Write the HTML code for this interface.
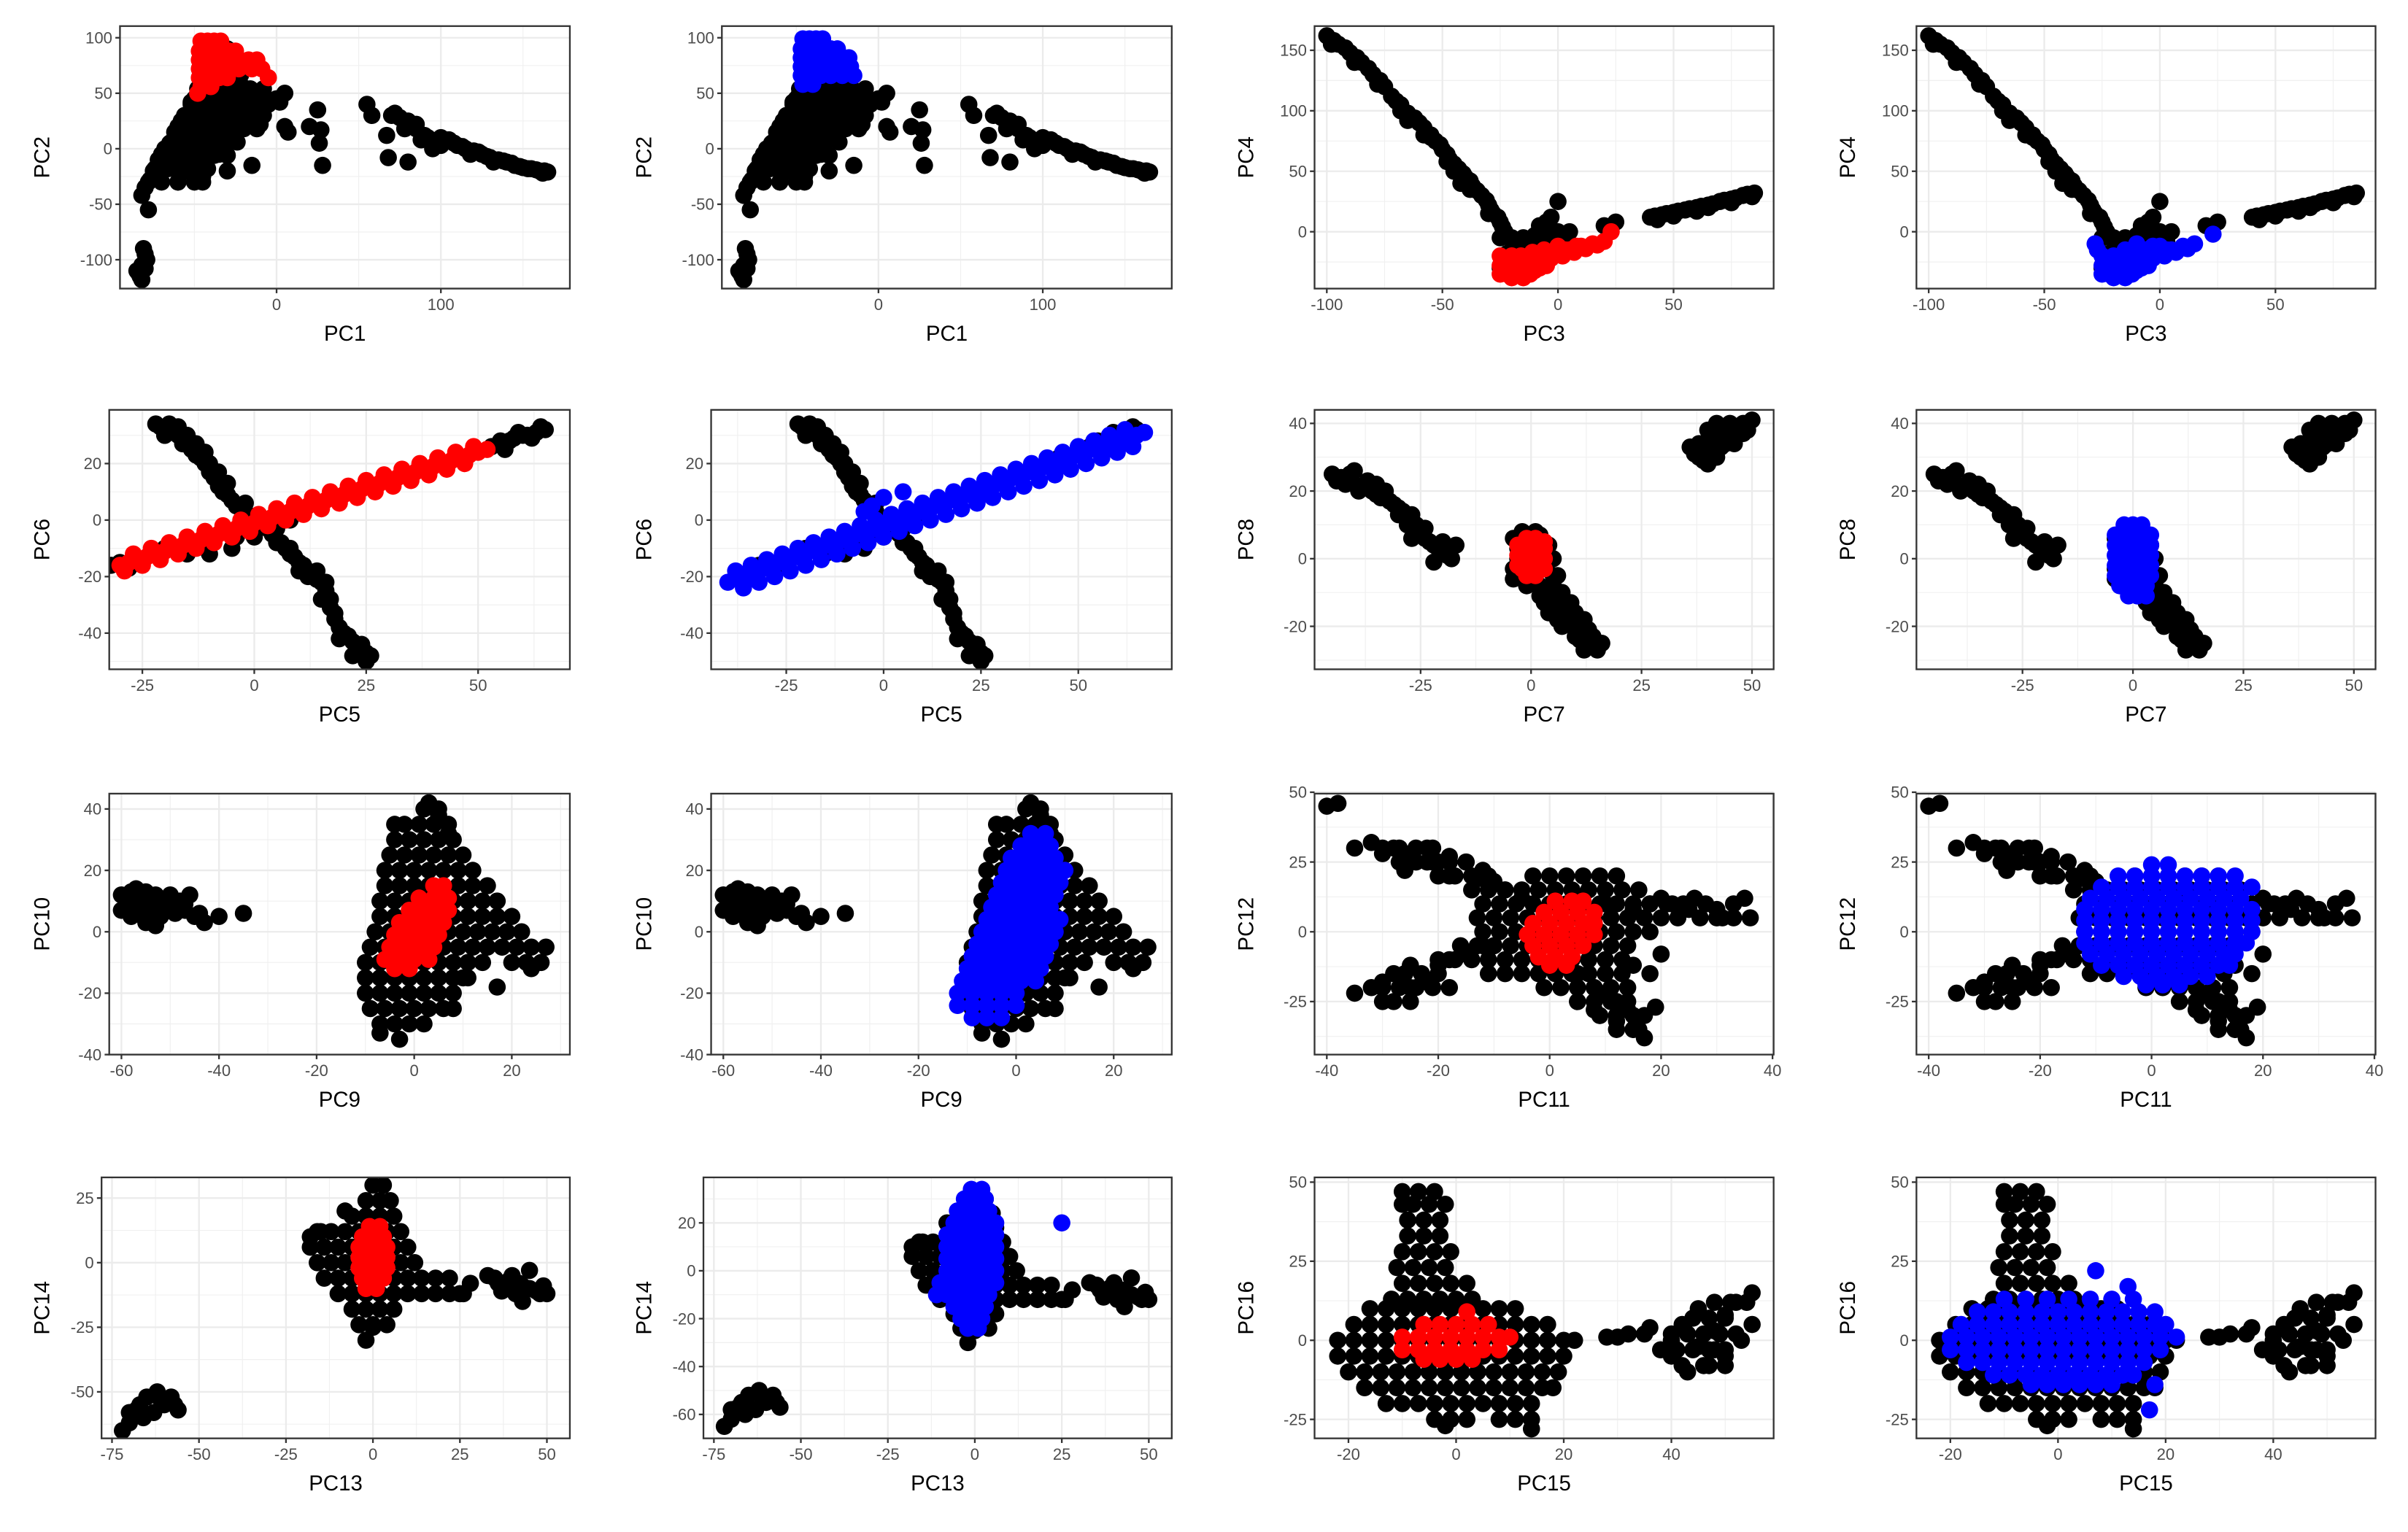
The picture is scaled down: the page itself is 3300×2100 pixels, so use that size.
<!DOCTYPE html>
<html><head><meta charset="utf-8">
<style>
html,body{margin:0;padding:0;background:#fff;}
svg{display:block;}
text{font-family:"Liberation Sans",Arial,sans-serif;}
</style></head>
<body>
<svg id="chart" xmlns="http://www.w3.org/2000/svg" width="3300" height="2100" viewBox="0 0 1568 998"></svg>
<script>
// ---------- data ----------
// point lists: [x, y]; row lists: [y, [x values]]
const black12 = [[-85,-110],[-83,-115],[-82,-105],[-80,-95],[-81,-90],[-78,-55],[-82,-42],[-80,-35],[-77,-28],[-75,-20],[-72,-10],[-70,-5],[-68,0],[-65,5],[-62,15],[-60,20],[-58,25],[-55,30],[-52,40],[-50,45],[-48,50],[-45,55],[-60,-30],[-55,-20],[-50,-10],[-50,-20],[-45,-25],[-45,0],[-40,10],[-35,15],[-30,20],[-35,-5],[-30,-20],[-15,-15],[-65,-15],[-60,-5],[-55,5],[-50,10],[-45,20],[-40,30],[-35,40],[-30,45],[-25,50],[-20,55],[-15,50],[-10,45],[-5,40],[0,45],[5,50],[-40,50],[-30,60],[-25,70],[-20,75],[-35,70],[-45,75],[-40,85],[-42,95],[-30,90],[-20,25],[-10,22],[5,20],[7,15],[20,20],[25,35],[27,17],[26,5],[28,-15],[55,40],[58,30],[67,12],[68,-8],[80,-12],[72,32],[80,25],[85,18],[90,12],[95,5],[100,10],[105,8],[110,3],[115,0],[120,-2],[125,-5],[130,-8],[135,-10],[140,-12],[145,-15],[150,-17],[155,-18],[160,-20],[163,-20],[95,0],[118,-5],[132,-12],[75,28],[85,22],[92,10],[98,8],[103,8],[108,5],[113,2],[123,-3],[128,-7],[138,-11],[143,-13],[148,-16],[153,-18],[158,-19],[162,-22],[165,-21],[78,18],[70,30],[88,8],[100,3],[-84,-112],[-82,-118],[-80,-108],[-79,-100]];
const black12Rows = [[-30,[-78,-70,-60,-50,-45]],[-18,[-74,-66,-58,-50,-42]],[-6,[-70,-62,-54,-46,-38,-30]],[6,[-64,-56,-48,-40,-32,-24]],[18,[-60,-52,-44,-36,-28,-20,-12]],[30,[-56,-48,-40,-32,-24,-16,-8]],[42,[-52,-44,-36,-28,-20,-12,-4,2]],[54,[-48,-40,-32,-24,-16,-8]],[66,[-46,-38,-30,-22]],[78,[-44,-36,-28]],[90,[-44,-36]]];
const red12Rows = [[97,[-46,-42,-38,-34]],[88,[-47,-41,-35,-29,-25]],[80,[-47,-41,-35,-29,-23,-17,-12]],[72,[-47,-41,-35,-29,-23,-15,-9]],[64,[-47,-41,-35,-30,-5]],[56,[-46,-40]],[50,[-48]]];
const blue12Rows = [[99,[-46,-42,-38,-34]],[90,[-47,-41,-35,-29,-25]],[82,[-47,-41,-35,-29,-23,-18]],[74,[-47,-41,-35,-29,-23,-17]],[66,[-47,-41,-35,-29,-22,-15]],[58,[-46,-40]]];

const black34 = [[-100,162],[-95,155],[-90,148],[-85,140],[-80,130],[-75,120],[-72,112],[-68,105],[-65,98],[-60,90],[-57,82],[-53,75],[-50,68],[-47,60],[-43,52],[-40,45],[-37,38],[-33,30],[-30,22],[-28,15],[-25,8],[-23,0],[-25,-5],[-20,-15],[-15,-5],[-10,-3],[-5,-5],[0,-5],[5,0],[-3,12],[-8,5],[-5,8],[0,25],[-45,50],[-42,40],[-55,78],[-65,92],[-20,-30],[-10,-25],[3,-8],[20,5],[25,8],[40,12],[45,14],[50,16],[55,18],[60,20],[65,22],[70,25],[75,27],[80,30],[85,32],[43,10],[60,17],[75,24],[-97,158],[-92,152],[-87,144],[-82,135],[-77,125],[-70,108],[-62,94],[-58,86],[-55,80],[-51,72],[-48,64],[-45,56],[-41,48],[-38,42],[-35,34],[-31,26],[-29,18],[-26,12],[-24,4],[-98,155],[-88,140],[-78,122],[-68,100],[-58,80],[-48,58],[-38,35],[-30,15],[42,13],[47,15],[52,17],[57,19],[62,21],[67,23],[72,26],[77,28],[82,31],[84,29],[50,13],[65,20],[-25,-30],[-20,-25],[-15,-20],[-10,-15],[-5,-12],[0,-10],[-20,-5],[-15,-10],[-10,-8],[-5,0],[0,0],[-22,-18],[-12,-28]];
const red34 = [[-25,-35],[-22,-30],[-18,-25],[-15,-28],[-10,-22],[-5,-20],[0,-18],[5,-15],[10,-12],[15,-10],[20,-8],[23,0],[-20,-38],[-15,-38],[-10,-32],[-25,-20],[-20,-20],[-5,-28],[0,-12],[-25,-28],[-22,-35],[-18,-35],[-12,-35],[-8,-30],[-23,-25],[-18,-30],[-13,-22],[-8,-25],[-3,-22],[2,-20],[7,-17],[12,-14],[17,-11],[-16,-20],[-11,-17],[-6,-15],[3,-15],[8,-12],[-20,-33],[-14,-32]];
const blue34 = [[-25,-35],[-22,-30],[-18,-25],[-15,-28],[-10,-22],[-5,-20],[0,-18],[5,-15],[10,-12],[15,-10],[23,-2],[-20,-38],[-15,-38],[-10,-32],[-25,-20],[-20,-20],[-5,-28],[0,-12],[-25,-28],[-28,-10],[-15,-15],[-22,-35],[-18,-35],[-12,-35],[-8,-30],[-23,-25],[-18,-30],[-13,-22],[-8,-25],[-3,-22],[2,-20],[7,-17],[12,-14],[-16,-20],[-11,-17],[-6,-15],[3,-15],[-20,-33],[-14,-32],[-27,-15],[-10,-10],[-3,-12]];

const black56 = [[-22,34],[-18,32],[-15,28],[-12,22],[-10,17],[-8,12],[-5,7],[-2,3],[0,0],[3,-3],[5,-7],[8,-12],[10,-15],[13,-20],[15,-22],[17,-28],[18,-35],[20,-40],[22,-43],[25,-47],[25,-50],[12,-18],[-5,-10],[-15,-12],[55,28],[60,30],[65,32],[45,22],[-30,-15],[-10,-12],[5,-3],[-20,-10],[-20,30],[-14,25],[-21,33],[-19,31],[-17,30],[-16,27],[-14,25],[-13,23],[-11,20],[-9,15],[-7,10],[-6,9],[-4,5],[-3,4],[-1,1],[1,-1],[2,-2],[4,-5],[6,-8],[7,-10],[9,-13],[11,-16],[14,-21],[16,-25],[17,-31],[18,-33],[19,-38],[21,-41],[23,-45],[24,-46],[-19,34],[-17,33],[-20,30],[-15,30],[-13,27],[-11,24],[-10,20],[-8,17],[-6,13],[-2,6],[2,0],[4,-3],[8,-10],[10,-18],[12,-20],[14,-18],[16,-22],[15,-28],[19,-42],[22,-48],[24,-44],[26,-48],[53,26],[55,27],[57,28],[58,29],[61,30],[63,31],[64,33],[62,29],[56,25],[59,31],[-32,-16],[-28,-17],[0,-6],[5,-8],[8,0],[-4,-6]];
const red56 = [[-30,-16],[-28,-15],[-26,-14],[-24,-13],[-22,-12],[-20,-11],[-18,-10],[-16,-9],[-14,-8],[-12,-7],[-10,-6],[-8,-5],[-6,-4],[-4,-3],[-2,-2],[0,-1],[2,0],[4,1],[6,2],[8,3],[10,4],[12,5],[14,6],[16,7],[18,8],[20,9],[22,10],[24,11],[26,12],[28,13],[30,14],[32,15],[34,16],[36,17],[38,18],[40,19],[42,20],[44,21],[46,22],[48,23],[50,24],[52,25],[-27,-12],[-23,-10],[-19,-8],[-15,-6],[-11,-4],[-7,-2],[-3,0],[1,2],[5,4],[9,6],[13,8],[17,10],[21,12],[25,14],[29,16],[33,18],[37,20],[41,22],[45,24],[49,26],[-29,-18],[-25,-16],[-21,-14],[-17,-12],[-13,-10],[-9,-8],[-5,-6],[-1,-4],[3,-2],[7,0],[11,2],[15,4],[19,6],[23,8],[27,10],[31,12],[35,14],[39,16],[43,18],[47,20]];
const blue56 = [[-40,-22],[-37,-21],[-35,-20],[-32,-18],[-30,-17],[-27,-15],[-25,-14],[-22,-13],[-20,-12],[-17,-10],[-15,-9],[-12,-8],[-10,-7],[-7,-5],[-5,-4],[-2,-3],[0,-2],[2,-1],[5,0],[7,2],[10,3],[12,4],[15,5],[17,7],[20,8],[22,9],[25,10],[27,12],[30,13],[32,14],[35,15],[37,17],[40,18],[42,19],[45,20],[47,22],[50,23],[52,24],[55,25],[57,26],[60,27],[62,29],[65,30],[67,31],[-38,-18],[-34,-16],[-30,-14],[-26,-12],[-22,-10],[-18,-8],[-14,-6],[-10,-4],[-6,-2],[-2,0],[2,2],[6,4],[10,6],[14,8],[18,10],[22,12],[26,14],[30,16],[34,18],[38,20],[42,22],[46,24],[50,26],[54,28],[58,30],[62,32],[-36,-24],[-32,-22],[-28,-20],[-24,-18],[-20,-16],[-16,-14],[-12,-12],[-8,-10],[-4,-8],[0,-6],[4,-4],[8,-2],[12,0],[16,2],[20,4],[24,6],[28,8],[32,10],[36,12],[40,14],[44,16],[48,18],[52,20],[56,22],[60,24],[64,26],[-3,5],[0,8],[5,10],[-5,3]];

const black78 = [[-45,25],[-43,24],[-40,22],[-38,21],[-36,20],[-34,18],[-32,17],[-30,15],[-28,12],[-26,10],[-25,7],[-23,5],[-21,3],[-20,2],[-18,0],[-17,4],[-22,-1],[-35,22],[-40,26],[-30,13],[-27,6],[0,5],[2,5],[-3,3],[3,2],[-3,0],[3,-3],[0,-3],[5,-5],[2,-8],[4,-10],[6,-12],[7,-15],[9,-18],[10,-20],[12,-22],[13,-25],[15,-27],[11,-24],[6,-18],[8,-14],[3,-13],[-2,-5],[5,0],[1,8],[38,30],[40,35],[42,38],[45,40],[48,40],[50,41],[40,28],[43,33],[45,36],[47,37],[38,34],[42,30],[36,33],[-44,23],[-42,22],[-41,25],[-39,20],[-37,23],[-35,19],[-33,20],[-31,16],[-29,14],[-27,13],[-26,8],[-24,6],[-22,4],[-20,5],[-19,1],[-24,9],[-28,10],[-4,6],[-2,8],[2,7],[4,4],[-4,-3],[-4,-6],[-1,-8],[2,-11],[5,-8],[6,-5],[7,-10],[9,-13],[8,-17],[10,-16],[11,-19],[12,-18],[13,-21],[14,-23],[14,-26],[16,-25],[10,-23],[12,-27],[7,-20],[5,-14],[4,-16],[39,32],[41,31],[44,34],[46,38],[49,38],[37,31],[40,38],[43,36],[46,34],[48,37],[42,40],[39,29]];
const red78 = [[-2,3],[0,5],[2,3],[-2,-1],[0,0],[2,-2],[0,-4],[-2,-3],[3,0],[-3,1],[-3,4],[-1,6],[1,6],[3,3],[-3,-2],[1,-1],[3,-3],[-1,-5],[1,-5],[3,5],[-1,2],[1,2]];
const blue78Rows = [[10,[-2,0,2]],[7,[-4,-2,0,2,4]],[4,[-4,-2,0,2,4]],[1,[-4,-2,0,2,4]],[-2,[-4,-2,0,2,4]],[-5,[-4,-2,0,2,4]],[-8,[-3,-1,1,3]],[-11,[-1,1,3]]];

const black910 = [[-58,10],[-60,12],[-58,5],[-55,8],[-55,13],[-52,10],[-50,8],[-52,5],[-55,3],[-48,10],[-47,7],[-45,5],[-43,3],[-40,5],[-35,6],[-60,7],[-57,14],[-53,2],[-50,12],[-46,12],[-59,9],[-56,11],[-54,6],[-51,8],[-49,6],[-57,7],[-53,12],[-47,9],[-44,6],[-58,13],[-53,9],[3,42],[5,38],[-4,35],[7,32],[-7,-33],[8,-25],[10,-15],[17,-18],[24,-12]];
const black910Rows = [[40,[2,5]],[35,[-2,1,4,7]],[30,[-4,-1,2,5,8]],[25,[-5,-2,1,4,7,10]],[20,[-6,-3,0,3,6,9,12]],[15,[-6,-3,0,3,6,9,12,15]],[10,[-7,-4,-1,2,5,8,11,14,17]],[5,[-7,-4,-1,2,5,8,11,14,17,20]],[0,[-8,-5,-2,1,4,7,10,13,16,19,22]],[-5,[-9,-6,-3,0,3,6,9,12,15,18,21,24,27]],[-10,[-10,-7,-4,-1,2,5,8,11,14,20,23,26]],[-15,[-10,-7,-4,-1,2,5,8,11]],[-20,[-10,-7,-4,-1,2,5,8]],[-25,[-9,-6,-3,0,3,6]],[-30,[-7,-4,-1,2]],[-35,[-3]]];
const red910Rows = [[15,[4,6]],[11,[1,4,7]],[7,[-1,2,5,7]],[3,[-3,0,3,6]],[-1,[-4,-1,2,5]],[-5,[-5,-2,1,4]],[-9,[-6,-3,0,3]],[-12,[-4,-1]]];
const blue910Rows = [[32,[3,6]],[28,[1,4,7]],[24,[-1,2,5,8]],[20,[-2,1,4,7,10]],[16,[-3,0,3,6,9]],[12,[-4,-1,2,5,8]],[8,[-5,-2,1,4,7]],[4,[-6,-3,0,3,6,9]],[0,[-7,-4,-1,2,5,8]],[-4,[-8,-5,-2,1,4,7]],[-8,[-9,-6,-3,0,3,6]],[-12,[-10,-7,-4,-1,2,5]],[-16,[-11,-8,-5,-2,1,4]],[-20,[-12,-9,-6,-3,0]],[-24,[-12,-9,-6,-3,0]],[-28,[-9,-6,-3]]];

const black1112 = [[-40,45],[-38,46],[-35,30],[-32,32],[-28,30],[-25,28],[-22,25],[-20,25],[-18,27],[-15,25],[-12,22],[-10,18],[-8,15],[-5,12],[-22,30],[-30,28],[-13,19],[-26,22],[-18,20],[5,12],[10,10],[15,8],[18,10],[20,12],[22,10],[25,8],[28,10],[30,8],[33,10],[35,12],[31,5],[26,12],[-35,-22],[-32,-20],[-30,-18],[-28,-15],[-25,-20],[-22,-18],[-20,-12],[-18,-10],[-15,-8],[-12,-5],[-10,-5],[-25,-12],[-30,-25],[5,-15],[8,-20],[10,-22],[12,-25],[14,-28],[12,-32],[15,-35],[17,-38],[17,-30],[8,-28],[5,-25],[20,-8],[15,-12],[18,-15],[19,-27]];
const black1112Rows = [[30,[-30,-27,-24,-21]],[25,[-27,-24,-21,-18,-15]],[20,[-20,-17,-14,-11,-3,0,3,6,9,12]],[15,[-14,-11,-8,-5,-2,1,4,7,10,13,16]],[10,[-12,-9,-6,-3,0,3,6,9,12,15,18,21,24]],[5,[-13,-10,-7,-4,-1,2,5,8,11,14,17,20,23,27,30,33,36]],[0,[-12,-9,-6,-3,0,3,6,9,12,15,18]],[-5,[-16,-13,-10,-7,-4,-1,2,5,8,11,14]],[-10,[-20,-17,-14,-11,-8,-5,-2,1,4,7,10,13]],[-15,[-26,-23,-20,-11,-8,-5,-2,1,4,7,10,13]],[-20,[-30,-27,-24,-21,-18,-1,2,5,8,11,14]],[-25,[-28,-25,5,8,11,14]],[-30,[9,12,15]],[-35,[12,15,16]]];
const red1112Rows = [[11,[1,4,6]],[7,[-1,2,5,8]],[3,[-3,0,3,6,8]],[-1,[-4,-1,2,5,8]],[-5,[-3,0,3,6]],[-9,[-2,1,4]],[-12,[0,3]]];
const blue1112Rows = [[24,[0,3]],[20,[-6,-3,0,3,6,9,12,15]],[16,[-9,-6,-3,0,3,6,9,12,15,18]],[12,[-11,-8,-5,-2,1,4,7,10,13,16]],[8,[-12,-9,-6,-3,0,3,6,9,12,15,18]],[4,[-12,-9,-6,-3,0,3,6,9,12,15,18]],[0,[-12,-9,-6,-3,0,3,6,9,12,15,18]],[-4,[-12,-9,-6,-3,0,3,6,9,12,15,17]],[-8,[-11,-8,-5,-2,1,4,7,10,13,15]],[-12,[-9,-6,-3,0,3,6,9,12,14]],[-16,[-5,-2,1,4,7,10]],[-19,[-1,2,5]]];

const black1314 = [[-72,-65],[-70,-58],[-67,-55],[-65,-52],[-62,-50],[-60,-55],[-58,-52],[-56,-57],[-63,-58],[-70,-62],[-66,-60],[-61,-53],[-57,-55],[-68,-57],[-15,12],[-18,10],[-8,20],[25,-12],[28,-8],[33,-5],[38,-10],[40,-5],[42,-8],[45,-10],[48,-12],[43,-15],[50,-12],[45,-3],[36,-8],[35,-6],[39,-7],[43,-9],[47,-11],[49,-9],[41,-12],[37,-11],[-2,-30],[0,-25]];
const black1314Rows = [[30,[0,3]],[24,[-2,2,5]],[18,[-6,-2,2,6]],[12,[-16,-12,-8,-4,0,4,8]],[6,[-18,-14,-10,-6,-2,2,6,10]],[0,[-16,-12,-8,-4,0,4,8,12]],[-6,[-14,-10,-6,-2,2,6,10,14,18,22]],[-12,[-10,-6,-2,2,6,10,14,18,22,26]],[-18,[-6,-2,2,6]],[-24,[-4,0,4]]];
const red1314Rows = [[14,[-1,2]],[10,[-3,0,3]],[6,[-4,-1,2,4]],[2,[-4,-1,2,4]],[-2,[-4,-1,2,4]],[-6,[-3,0,3]],[-10,[-2,1]]];
const blue1314Rows = [[34,[-1,2]],[30,[-3,0,3]],[25,[-5,-2,1,4]],[20,[-6,-3,0,3,6,25]],[15,[-8,-5,-2,1,4,6]],[10,[-8,-5,-2,1,4,6]],[5,[-8,-5,-2,1,4,6]],[0,[-8,-5,-2,1,4,6]],[-5,[-10,-8,-5,-2,1,4,6]],[-10,[-11,-8,-5,-2,1,4]],[-15,[-6,-3,0,3]],[-20,[-4,-1,2]],[-24,[-2,1]]];

const black1516 = [[30,1],[35,2],[40,0],[42,5],[45,-2],[48,3],[50,8],[52,12],[55,15],[45,10],[40,-5],[47,-8],[53,0],[48,-3],[43,-10],[55,5],[50,-5],[28,1],[32,2],[36,4],[14,-28],[-2,-27]];
const black1516Rows = [[47,[-10,-7,-4]],[43,[-10,-8,-5,-2]],[38,[-9,-6,-3]],[33,[-9,-6,-3]],[28,[-10,-7,-4,-1]],[23,[-11,-8,-5,-2]],[18,[-10,-7,-4,-1,2]],[13,[-12,-9,-6,-3,0,3]],[10,[-16,-13,-10,-7,-4,-1,2,5,8,11]],[5,[-19,-16,-13,-10,-7,-4,-1,2,5,8,11,14,17]],[0,[-22,-19,-16,-13,-10,-7,-4,-1,2,5,8,11,14,17,20,22]],[-5,[-22,-19,-16,-13,-10,-7,-4,-1,2,5,8,11,14,17,20]],[-10,[-20,-17,-14,-11,-8,-5,-2,1,4,7,10,13,16,19]],[-15,[-17,-14,-11,-8,-5,-2,1,4,7,10,13,16,18]],[-20,[-13,-10,-7,-4,-1,2,5,8,11,14]],[-25,[-4,-1,2,8,11,14]],[12,[48,51,54]],[7,[44,47,50]],[2,[40,43,46,49,52]],[-3,[38,41,44,47,50]],[-8,[42,46,50]]];
const red1516Rows = [[9,[2]],[5,[-6,-3,0,3,6]],[1,[-10,-7,-4,-1,2,5,8,10]],[-3,[-10,-7,-4,-1,2,5,8]],[-6,[-6,-3,0,3]]];
const blue1516Rows = [[22,[7]],[17,[13]],[13,[-10,-6,-2,2,6,10,14]],[9,[-15,-12,-9,-6,-3,0,3,6,9,12,15,18]],[5,[-18,-15,-12,-9,-6,-3,0,3,6,9,12,15,18,20]],[1,[-20,-17,-14,-11,-8,-5,-2,1,4,7,10,13,16,19,22]],[-3,[-20,-17,-14,-11,-8,-5,-2,1,4,7,10,13,16,19]],[-7,[-17,-14,-11,-8,-5,-2,1,4,7,10,13,16]],[-11,[-12,-9,-6,-3,0,3,6,9,12,14]],[-14,[-5,-2,1,4,7,10,18]],[-22,[17]]];

const xTicks12 = [0,100], yTicks12 = [-100,-50,0,50,100];
const xTicks34 = [-100,-50,0,50], yTicks34 = [0,50,100,150];
const xTicks56 = [-25,0,25,50], yTicks56 = [-40,-20,0,20];
const xTicks78 = [-25,0,25,50], yTicks78 = [-20,0,20,40];
const xTicks910 = [-60,-40,-20,0,20], yTicks910 = [-40,-20,0,20,40];
const xTicks1112 = [-40,-20,0,20,40], yTicks1112 = [-25,0,25,50];
const xTicks1314 = [-75,-50,-25,0,25,50], yTicks1314a = [-50,-25,0,25], yTicks1314b = [-60,-40,-20,0,20];
const xTicks1516 = [-20,0,20,40], yTicks1516 = [-25,0,25,50];

// ---------- drawing ----------
function rows(r){ const out=[]; r.forEach(([y,xs]) => xs.forEach(x => out.push([x,y]))); return out; }
const NS = "http://www.w3.org/2000/svg";
const svg = document.getElementById("chart");
function mk(tag, attrs, parent){
  const e = document.createElementNS(NS, tag);
  for (const k in attrs) e.setAttribute(k, attrs[k]);
  (parent||svg).appendChild(e);
  return e;
}
const R = 5.6;
function panel(id, box, xlim, ylim, xt, yt, xlab, ylab, bg, over, overColor){
  const [L,T,Rr,B] = box;
  const g = mk("g", {});
  
  
  const sx = v => L + (v - xlim[0]) / (xlim[1] - xlim[0]) * (Rr - L);
  const sy = v => B - (v - ylim[0]) / (ylim[1] - ylim[0]) * (B - T);
  const clipId = "clip-" + id;
  const cp = mk("clipPath", {id: clipId}, g);
  mk("rect", {x:L, y:T, width:Rr-L, height:B-T}, cp);
  const grid = mk("g", {}, g);
  
  
  const dx = xt[1]-xt[0], dy = yt[1]-yt[0];
  for (let v = xt[0]-dx*3 + dx/2; v < xlim[1]; v += dx) if (v > xlim[0]) mk("line",{x1:sx(v),x2:sx(v),y1:T,y2:B,stroke:"#f0f0f0","stroke-width":0.55},grid);
  for (let v = yt[0]-dy*3 + dy/2; v < ylim[1]; v += dy) if (v > ylim[0]) mk("line",{x1:L,x2:Rr,y1:sy(v),y2:sy(v),stroke:"#f0f0f0","stroke-width":0.55},grid);
  xt.forEach(v => mk("line",{x1:sx(v),x2:sx(v),y1:T,y2:B,stroke:"#ebebeb","stroke-width":1.1},grid));
  yt.forEach(v => mk("line",{x1:L,x2:Rr,y1:sy(v),y2:sy(v),stroke:"#ebebeb","stroke-width":1.1},grid));
  const pts = mk("g", {"clip-path":"url(#"+clipId+")"}, g);
  bg.forEach(p => {
    const c = mk("circle",{cx:sx(p[0]),cy:sy(p[1]),r:R,fill:"#000"},pts);
    
    
  });
  over.forEach(p => {
    const c = mk("circle",{cx:sx(p[0]),cy:sy(p[1]),r:R,fill:overColor},pts);
    
    
  });
  const frame = mk("rect",{x:L,y:T,width:Rr-L,height:B-T,fill:"none",stroke:"#333","stroke-width":1.1},g);
  
  
  xt.forEach(v => {
    mk("line",{x1:sx(v),x2:sx(v),y1:B,y2:B+3,stroke:"#333","stroke-width":1.1},g);
    const t = mk("text",{x:sx(v),y:B+14,"text-anchor":"middle","font-size":10.5,fill:"#4d4d4d"},g);
    t.textContent = v;
    
    
  });
  yt.forEach(v => {
    mk("line",{x1:L-3,x2:L,y1:sy(v),y2:sy(v),stroke:"#333","stroke-width":1.1},g);
    const t = mk("text",{x:L-5,y:sy(v)+3.7,"text-anchor":"end","font-size":10.5,fill:"#4d4d4d"},g);
    t.textContent = v;
    
    
  });
  const xl = mk("text",{x:(L+Rr)/2,y:B+34,"text-anchor":"middle","font-size":14,fill:"#000"},g);
  xl.textContent = xlab;
  
  
  const yx = box[4];
  const yl = mk("text",{x:yx,y:(T+B)/2,"text-anchor":"middle","font-size":14,fill:"#000",transform:"rotate(-90 "+yx+" "+(T+B)/2+")"},g);
  yl.textContent = ylab;
  
  
}
const RED = "#ff0000", BLUE = "#0000ff";
const bk12 = black12.concat(rows(black12Rows));
const bk910 = black910.concat(rows(black910Rows));
const bk1112 = black1112.concat(rows(black1112Rows));
const bk1314 = black1314.concat(rows(black1314Rows));
const bk1516 = black1516.concat(rows(black1516Rows));
// row 1
panel("pc1-pc2-red",[78,17,371,188,32],[-95.3,178.5],[-126,110.5],xTicks12,yTicks12,"PC1","PC2",bk12,rows(red12Rows),RED);
panel("pc1-pc2-blue",[470,17,763,188,424],[-95.3,178.5],[-126,110.5],xTicks12,yTicks12,"PC1","PC2",bk12,rows(blue12Rows),BLUE);
panel("pc3-pc4-red",[856,17,1155,188,816],[-105.3,93.3],[-47,170],xTicks34,yTicks34,"PC3","PC4",black34,red34,RED);
panel("pc3-pc4-blue",[1248,17,1547,188,1208],[-105.3,93.3],[-47,170],xTicks34,yTicks34,"PC3","PC4",black34,blue34,BLUE);
// row 2
panel("pc5-pc6-red",[71,267,371,436,32],[-32.4,70.5],[-52.8,39],xTicks56,yTicks56,"PC5","PC6",black56,red56,RED);
panel("pc5-pc6-blue",[463,267,763,436,424],[-44.3,74],[-52.8,39],xTicks56,yTicks56,"PC5","PC6",black56,blue56,BLUE);
panel("pc7-pc8-red",[856,267,1155,436,816],[-49,54.9],[-32.7,44],xTicks78,yTicks78,"PC7","PC8",black78,red78,RED);
panel("pc7-pc8-blue",[1248,267,1547,436,1208],[-49,54.9],[-32.7,44],xTicks78,yTicks78,"PC7","PC8",black78,rows(blue78Rows),BLUE);
// row 3
panel("pc9-pc10-red",[71,517,371,687,32],[-62.5,31.9],[-40,45],xTicks910,yTicks910,"PC9","PC10",bk910,rows(red910Rows),RED);
panel("pc9-pc10-blue",[463,517,763,687,424],[-62.5,31.9],[-40,45],xTicks910,yTicks910,"PC9","PC10",bk910,rows(blue910Rows),BLUE);
panel("pc11-pc12-red",[856,517,1155,687,816],[-42.2,40.2],[-44,49.5],xTicks1112,yTicks1112,"PC11","PC12",bk1112,rows(red1112Rows),RED);
panel("pc11-pc12-blue",[1248,517,1547,687,1208],[-42.2,40.2],[-44,49.5],xTicks1112,yTicks1112,"PC11","PC12",bk1112,rows(blue1112Rows),BLUE);
// row 4
panel("pc13-pc14-red",[66,767,371,937,32],[-78,56.6],[-68,33],xTicks1314,yTicks1314a,"PC13","PC14",bk1314,rows(red1314Rows),RED);
panel("pc13-pc14-blue",[458,767,763,937,424],[-78,56.6],[-70,39],xTicks1314,yTicks1314b,"PC13","PC14",bk1314,rows(blue1314Rows),BLUE);
panel("pc15-pc16-red",[856,767,1155,937,816],[-26.3,59],[-31,51.5],xTicks1516,yTicks1516,"PC15","PC16",bk1516,rows(red1516Rows),RED);
panel("pc15-pc16-blue",[1248,767,1547,937,1208],[-26.3,59],[-31,51.5],xTicks1516,yTicks1516,"PC15","PC16",bk1516,rows(blue1516Rows),BLUE);
</script>
</body></html>
